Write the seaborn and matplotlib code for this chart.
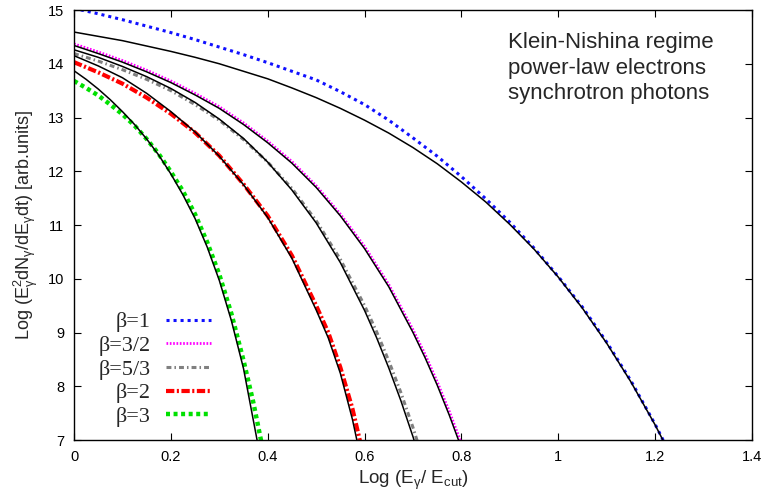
import matplotlib
matplotlib.use("Agg")
import matplotlib.pyplot as plt
from matplotlib.font_manager import FontProperties
import seaborn as sns
import pandas as pd

# ---- data ----
x_b1 = [0.0, 0.05, 0.1, 0.15, 0.2, 0.25, 0.3, 0.35, 0.4, 0.45, 0.5, 0.55, 0.6, 0.65,
        0.7, 0.75, 0.8, 0.85, 0.9, 0.95, 1.0, 1.05, 1.1, 1.15, 1.2, 1.23]
y_b1 = [15.03, 14.93, 14.82, 14.70, 14.58, 14.45, 14.31, 14.17, 14.02, 13.86, 13.70, 13.48,
        13.24, 12.95, 12.62, 12.28, 11.90, 11.49, 11.05, 10.57, 10.04, 9.47, 8.82, 8.10,
        7.29, 6.76]
fit_b1 = [14.59, 14.51, 14.43, 14.33, 14.23, 14.12, 14.00, 13.86, 13.72, 13.55, 13.37, 13.17,
          12.95, 12.71, 12.44, 12.14, 11.80, 11.43, 11.01, 10.55, 10.03, 9.45, 8.80, 8.08,
          7.28, 6.75]

x_b32 = [0.0, 0.05, 0.1, 0.15, 0.2, 0.25, 0.3, 0.35, 0.4, 0.45, 0.5, 0.55, 0.6, 0.65,
         0.7, 0.725, 0.75, 0.775, 0.8, 0.82]
y_b32 = [14.37, 14.22, 14.06, 13.88, 13.68, 13.45, 13.20, 12.90, 12.56, 12.18, 11.73, 11.20,
         10.60, 9.89, 9.05, 8.59, 8.08, 7.53, 6.93, 6.41]
fit_b32 = [14.34, 14.19, 14.03, 13.85, 13.65, 13.42, 13.17, 12.87, 12.53, 12.15, 11.70, 11.17,
           10.56, 9.85, 9.00, 8.53, 8.02, 7.46, 6.85, 6.33]

x_b53 = [0.0, 0.05, 0.1, 0.15, 0.2, 0.25, 0.3, 0.35, 0.4, 0.45, 0.5, 0.55, 0.6, 0.625,
         0.65, 0.675, 0.7, 0.72]
y_b53 = [14.19, 14.05, 13.89, 13.71, 13.50, 13.24, 12.95, 12.59, 12.17, 11.68, 11.08, 10.36,
         9.50, 9.01, 8.47, 7.88, 7.23, 6.66]
fit_b53 = [14.26, 14.12, 13.95, 13.76, 13.54, 13.28, 12.97, 12.61, 12.17, 11.65, 11.04, 10.30,
           9.41, 8.90, 8.34, 7.73, 7.06, 6.47]

x_b2 = [0.0, 0.05, 0.1, 0.15, 0.2, 0.25, 0.3, 0.35, 0.4, 0.45, 0.5, 0.525, 0.55, 0.575,
        0.59, 0.61]
y_b2 = [14.03, 13.84, 13.63, 13.37, 13.07, 12.72, 12.29, 11.76, 11.17, 10.43, 9.50, 9.00,
        8.35, 7.58, 7.00, 6.30]
x_b2_fit = [0.0, 0.05, 0.1, 0.15, 0.2, 0.25, 0.3, 0.35, 0.4, 0.45, 0.5, 0.525, 0.55, 0.575,
            0.584, 0.61]
fit_b2 = [14.15, 13.96, 13.74, 13.45, 13.11, 12.73, 12.28, 11.75, 11.14, 10.38, 9.42, 8.90,
          8.24, 7.38, 7.00, 6.00]

x_b3 = [0.0, 0.025, 0.05, 0.075, 0.1, 0.125, 0.15, 0.175, 0.2, 0.225, 0.25, 0.275, 0.3,
        0.325, 0.35, 0.37, 0.386, 0.40]
y_b3 = [13.68, 13.55, 13.41, 13.24, 13.06, 12.85, 12.60, 12.32, 11.99, 11.63, 11.20, 10.68,
        10.08, 9.35, 8.48, 7.71, 7.00, 6.32]
x_b3_fit = [0.0, 0.025, 0.05, 0.075, 0.1, 0.125, 0.15, 0.175, 0.2, 0.225, 0.25, 0.275, 0.3,
            0.325, 0.35, 0.37, 0.378, 0.40]
fit_b3 = [13.87, 13.71, 13.53, 13.33, 13.11, 12.87, 12.60, 12.30, 11.95, 11.56, 11.12, 10.59,
          9.97, 9.22, 8.33, 7.38, 7.00, 5.95]

labels = ["β=1", "β=3/2", "β=5/3", "β=2", "β=3"]
colors = ["#1010ff", "#ff00ff", "#808080", "#ff0000", "#00e000"]

x_ticks = [0, 0.2, 0.4, 0.6, 0.8, 1.0, 1.2, 1.4]
x_ticklabels = ["0", "0.2", "0.4", "0.6", "0.8", "1", "1.2", "1.4"]
y_ticks = [7, 8, 9, 10, 11, 12, 13, 14, 15]

# ---- styling ----
sns.set_theme(style="ticks")
plt.rcParams["font.family"] = ["Liberation Sans", "DejaVu Sans"]
plt.rcParams["mathtext.fontset"] = "custom"
plt.rcParams["mathtext.rm"] = "Liberation Sans"
plt.rcParams["mathtext.it"] = "Liberation Sans:italic"
plt.rcParams["mathtext.default"] = "regular"

fig = plt.figure(figsize=(7.63, 4.93), dpi=100)
ax = fig.add_axes([0.097, 0.1075, 0.8886, 0.8722])

series = [
    (x_b1, y_b1, x_b1, fit_b1, 2.2, (0, (1.0, 1.3))),
    (x_b32, y_b32, x_b32, fit_b32, 2.0, (0, (0.6, 0.6))),
    (x_b53, y_b53, x_b53, fit_b53, 2.2, (0, (1.6, 1.0, 0.5, 1.0))),
    (x_b2, y_b2, x_b2_fit, fit_b2, 3.0, (0, (2.0, 0.6, 0.5, 0.6))),
    (x_b3, y_b3, x_b3_fit, fit_b3, 3.2, (0, (0.9, 0.8))),
]

handles = []
for (xd, yd, xf, yf, lw, ls), lab, col in zip(series, labels, colors):
    df = pd.DataFrame({"x": xd, "y": yd})
    sns.lineplot(data=df, x="x", y="y", ax=ax, color=col, linewidth=lw,
                 linestyle=ls, zorder=2, sort=False)
    line = ax.lines[-1]
    line.set_dash_capstyle("butt")
    handles.append(line)
for (xd, yd, xf, yf, lw, ls) in series:
    dff = pd.DataFrame({"x": xf, "y": yf})
    sns.lineplot(data=dff, x="x", y="y", ax=ax, color="black", linewidth=1.1,
                 zorder=3, sort=False)

ax.set_xlim(0, 1.4)
ax.set_ylim(7, 15)
ax.set_xticks(x_ticks)
ax.set_xticklabels(x_ticklabels)
ax.set_yticks(y_ticks)
ax.set_yticklabels([str(v) for v in y_ticks])
ax.tick_params(direction="in", top=True, right=True, length=5, width=0.8,
               labelsize=10.5, colors="black", pad=7)
for s in ax.spines.values():
    s.set_linewidth(1.0)
    s.set_color("black")

ax.set_xlabel(r"Log (E$_{\gamma}$/ E$_{cut}$)", fontsize=13.5, labelpad=4)
ax.set_ylabel(r"Log (E$^{2}_{\gamma}$dN$_{\gamma}$/dE$_{\gamma}$dt) [arb.units]",
              fontsize=13, labelpad=6)

ax.text(0.640, 0.948, "Klein-Nishina regime\npower-law electrons\nsynchrotron photons",
        transform=ax.transAxes, ha="left", va="top", fontsize=16, linespacing=1.28)

leg = ax.legend(handles, labels, loc="lower left", bbox_to_anchor=(0.036, 0.03),
                frameon=False, markerfirst=False, handlelength=2.0,
                handletextpad=0.7, labelspacing=0.14, borderpad=0, borderaxespad=0,
                prop=FontProperties(family="Liberation Serif", size=16))
try:
    for col in leg._legend_handle_box.get_children():
        col.align = "right"
except Exception:
    pass

fig.savefig("out.png", dpi=100)
